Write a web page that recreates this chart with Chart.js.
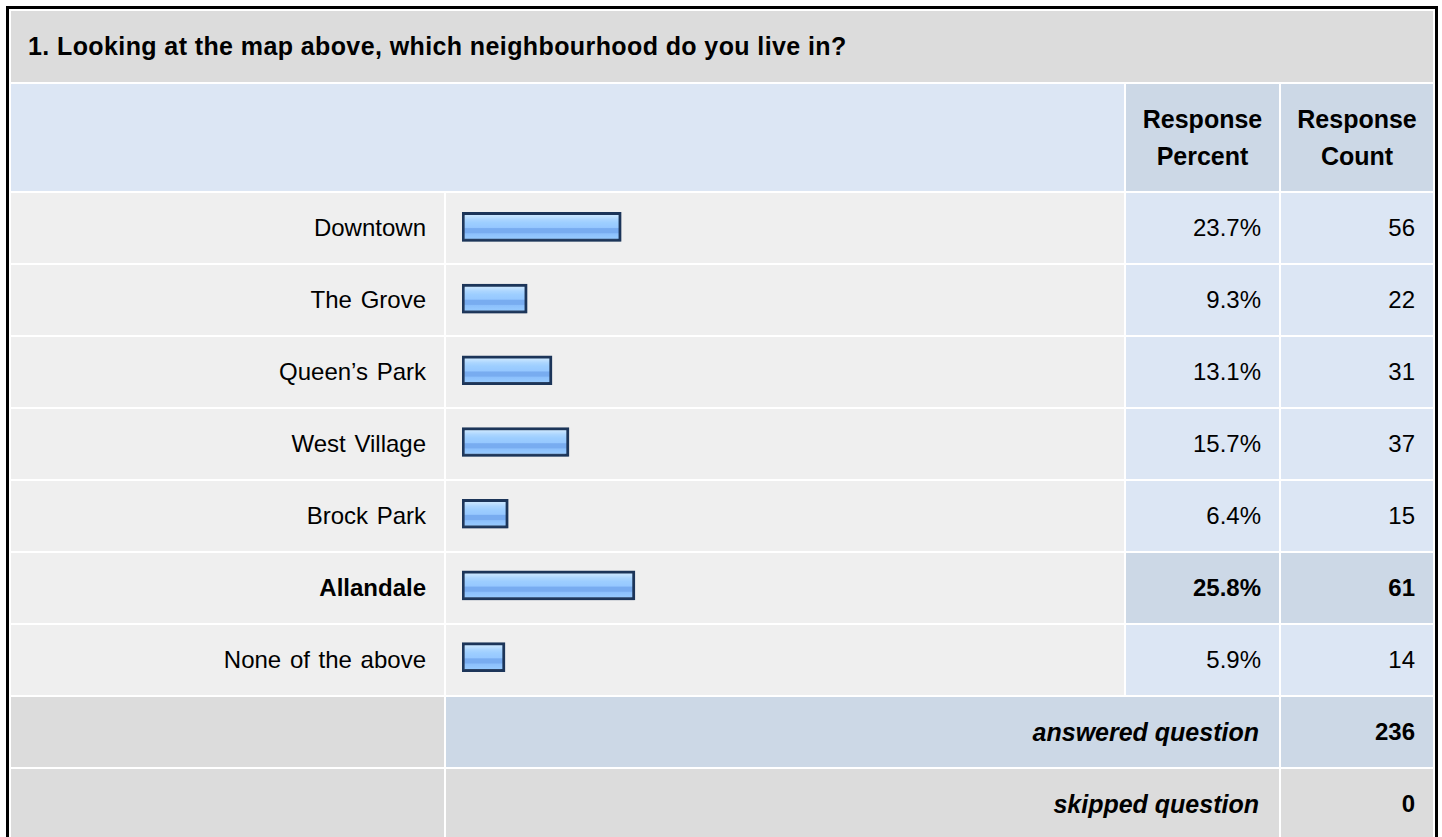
<!DOCTYPE html>
<html>
<head>
<meta charset="utf-8">
<script src="https://cdn.jsdelivr.net/npm/chart.js@4"></script>
<style>
  html, body { margin:0; padding:0; background:#fff; overflow:hidden; }
  body { width:1442px; height:837px; position:relative; font-family:"Liberation Sans", Arial, sans-serif; color:#000; }
  #tbl { position:absolute; left:6px; top:6px; width:1432px; border:3px solid #000; border-collapse:separate; border-spacing:2px; table-layout:fixed; }
  #tbl td { padding:0; font-size:24px; word-spacing:2px; }
  .title td { height:71px; background:#dcdcdc; font-weight:bold; font-size:25px !important; letter-spacing:0.4px; padding-left:17px !important; word-spacing:0 !important; }
  .head td { height:107px; }
  .head .blank { background:#dce6f4; }
  .head .hd { background:#ccd8e6; font-weight:bold; font-size:25px !important; text-align:center; line-height:37px; word-spacing:0 !important; }
  .row td { height:70px; }
  .lbl { background:#efefef; text-align:right; padding-right:18px !important; }
  .bar { background:#efefef; }
  .num { background:#dce6f4; text-align:right; padding-right:18px !important; }
  .row.hi .lbl, .row.hi .num { font-weight:bold; }
  .row.hi .num { background:#ccd8e6; }
  .sum td { height:70px; }
  .sum .g { background:#dcdcdc; }
  .sum .txt { text-align:right; padding-right:20px !important; font-weight:bold; font-style:italic; font-size:25px !important; word-spacing:0 !important; }
  .sum .val { text-align:right; padding-right:18px !important; font-weight:bold; }
  .sum.ans .txt, .sum.ans .val { background:#ccd8e6; }
  .sum.skp .txt, .sum.skp .val { background:#dcdcdc; }
  #chartBox { position:absolute; }
</style>
</head>
<body>
<table id="tbl">
  <colgroup><col style="width:433px"><col style="width:678px"><col style="width:153px"><col style="width:152px"></colgroup>
  <tbody id="tb"></tbody>
</table>
<div id="chartBox"><canvas id="ch"></canvas></div>
<script>
// ---- datos
const question = '1. Looking at the map above, which neighbourhood do you live in?';
const categories = ['Downtown', 'The Grove', 'Queen\u2019s Park', 'West Village', 'Brock Park', 'Allandale', 'None of the above'];
const percents = [23.7, 9.3, 13.1, 15.7, 6.4, 25.8, 5.9];
const counts = [56, 22, 31, 37, 15, 61, 14];
const headers = ['Response<br>Percent', 'Response<br>Count'];
const answered = 236;
const skipped = 0;
const highlighted = 'Allandale';

const $ = sel => document.querySelector(sel);

// tabla
const head = `
  <tr class="title"><td colspan="4">${question}</td></tr>
  <tr class="head"><td class="blank" colspan="2"></td><td class="hd">${headers[0]}</td><td class="hd">${headers[1]}</td></tr>`;
const body = categories.map((c, i) => `
  <tr class="row${c === highlighted ? ' hi' : ''}">
    <td class="lbl">${c}</td><td class="bar"></td>
    <td class="num">${percents[i].toFixed(1)}%</td><td class="num">${counts[i]}</td>
  </tr>`).join('');
const foot = `
  <tr class="sum ans"><td class="g"></td><td class="txt" colspan="2">answered question</td><td class="val">${answered}</td></tr>
  <tr class="sum skp"><td class="g"></td><td class="txt" colspan="2">skipped question</td><td class="val">${skipped}</td></tr>`;
$('#tb').innerHTML = head + body + foot;

// caja del grafico sobre la columna de barras
const barCells = document.querySelectorAll('.bar');
const r0 = barCells[0].getBoundingClientRect();
const r1 = barCells[barCells.length - 1].getBoundingClientRect();
const box = $('#chartBox');
box.style.left = r0.left + 'px';
box.style.top = (r0.top - 2) + 'px';
box.style.width = r0.width + 'px';
box.style.height = (r1.bottom - r0.top) + 'px';

// relleno con franjas, como la imagen de barra original
function barFill(ctx){
  const chart = ctx.chart;
  const y = chart.scales && chart.scales.y;
  if (!y || ctx.type !== 'data') return '#99ccff';
  const c = y.getPixelForValue(ctx.dataIndex);
  if (!isFinite(c)) return '#99ccff';
  const h = 29;
  const g = chart.ctx.createLinearGradient(0, c - h / 2, 0, c + h / 2);
  g.addColorStop(0.00, '#d6eeff');
  g.addColorStop(0.14, '#c2e2ff');
  g.addColorStop(0.24, '#acd6ff');
  g.addColorStop(0.36, '#9dceff');
  g.addColorStop(0.52, '#96c8ff');
  g.addColorStop(0.56, '#78acf0');
  g.addColorStop(0.70, '#78acf0');
  g.addColorStop(0.74, '#8cc0fc');
  g.addColorStop(1.00, '#9ccfff');
  return g;
}

// sombra leve abajo/izquierda
const barShadow = {
  id: 'barShadow',
  beforeDatasetsDraw(chart){
    const c = chart.ctx;
    c.save();
    c.shadowColor = 'rgba(70,90,120,0.35)';
    c.shadowOffsetX = -1; c.shadowOffsetY = 1; c.shadowBlur = 0;
  },
  afterDatasetsDraw(chart){ chart.ctx.restore(); }
};

const xMin = -0.69, xMax = 100.7;

new Chart($('#ch'), {
  type: 'bar',
  data: {
    labels: categories,
    datasets: [{
      data: percents,
      base: xMin,
      backgroundColor: barFill,
      borderColor: '#1c3559',
      borderWidth: 3,
      borderSkipped: false,
      barThickness: 29
    }]
  },
  options: {
    indexAxis: 'y',
    responsive: true, maintainAspectRatio: false,
    animation: false,
    layout: { padding: { left: 16, right: 0, top: 0, bottom: 0 } },
    scales: {
      x: { display: false, min: xMin, max: xMax },
      y: { display: false }
    },
    plugins: { legend: { display: false }, tooltip: { enabled: false } }
  },
  plugins: [barShadow]
});
</script>
</body>
</html>
